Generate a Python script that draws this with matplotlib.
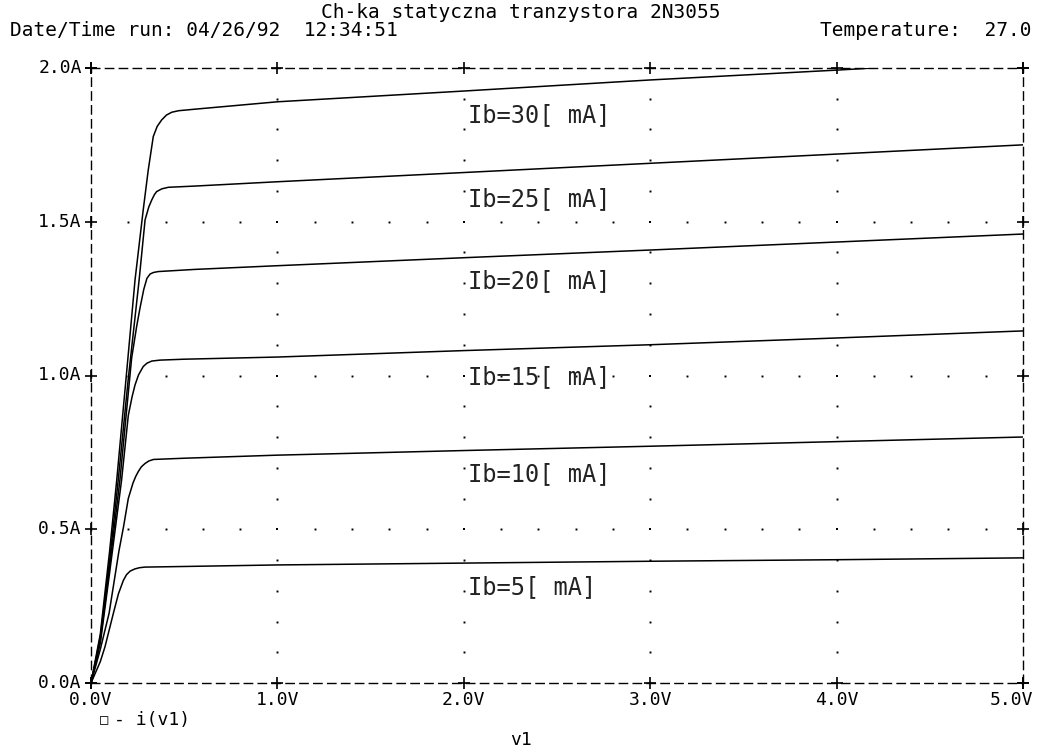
import matplotlib
matplotlib.use("Agg")
import matplotlib.pyplot as plt

# Charakterystyki wyjsciowe 2N3055: Ic = f(Vce) dla kilku Ib
v_ib5 = [0.0, 0.05, 0.075, 0.12, 0.147, 0.173, 0.19, 0.21, 0.235, 0.26, 0.29, 0.5, 1.0, 2.0, 3.0, 4.0, 5.0]
i_ib5 = [0.0, 0.07, 0.118, 0.227, 0.29, 0.333, 0.352, 0.364, 0.371, 0.375, 0.377, 0.379, 0.384, 0.39, 0.396, 0.401, 0.407]

v_ib10 = [0.0, 0.05, 0.097, 0.15, 0.175, 0.2, 0.225, 0.24, 0.254, 0.27, 0.29, 0.31, 0.335, 0.5, 1.0, 2.0, 3.0, 4.0, 5.0]
i_ib10 = [0.0, 0.11, 0.227, 0.43, 0.51, 0.6, 0.65, 0.672, 0.688, 0.703, 0.714, 0.722, 0.727, 0.731, 0.741, 0.756, 0.77, 0.785, 0.80]

v_ib15 = [0.0, 0.05, 0.1, 0.164, 0.2, 0.22, 0.236, 0.255, 0.28, 0.3, 0.326, 0.37, 0.5, 1.0, 2.0, 3.0, 4.0, 5.0]
i_ib15 = [0.0, 0.13, 0.36, 0.66, 0.87, 0.93, 0.969, 1.002, 1.029, 1.04, 1.047, 1.05, 1.053, 1.06, 1.081, 1.10, 1.122, 1.145]

v_ib20 = [0.0, 0.05, 0.1, 0.155, 0.218, 0.245, 0.263, 0.283, 0.30, 0.317, 0.335, 0.361, 0.558, 1.0, 2.0, 3.0, 4.0, 5.0]
i_ib20 = [0.0, 0.14, 0.38, 0.66, 1.057, 1.16, 1.22, 1.28, 1.316, 1.33, 1.335, 1.338, 1.345, 1.357, 1.383, 1.408, 1.434, 1.46]

v_ib25 = [0.0, 0.05, 0.1, 0.146, 0.2, 0.258, 0.29, 0.31, 0.326, 0.34, 0.352, 0.38, 0.415, 0.558, 1.0, 2.0, 3.0, 4.0, 5.0]
i_ib25 = [0.0, 0.15, 0.40, 0.66, 0.99, 1.31, 1.506, 1.548, 1.571, 1.588, 1.598, 1.607, 1.612, 1.616, 1.63, 1.66, 1.69, 1.72, 1.75]

v_ib30 = [0.0, 0.05, 0.1, 0.138, 0.2, 0.236, 0.28, 0.307, 0.334, 0.355, 0.379, 0.405, 0.433, 0.47, 0.558, 1.0, 2.0, 3.0, 4.0, 4.2]
i_ib30 = [0.0, 0.16, 0.43, 0.66, 1.07, 1.31, 1.538, 1.668, 1.777, 1.81, 1.831, 1.847, 1.856, 1.861, 1.866, 1.89, 1.925, 1.961, 1.993, 2.0]

curves = [(v_ib5, i_ib5), (v_ib10, i_ib10), (v_ib15, i_ib15),
          (v_ib20, i_ib20), (v_ib25, i_ib25), (v_ib30, i_ib30)]

labels = ["Ib=30[ mA]", "Ib=25[ mA]", "Ib=20[ mA]", "Ib=15[ mA]", "Ib=10[ mA]", "Ib=5[ mA]"]
label_y = [1.847, 1.574, 1.307, 0.995, 0.680, 0.312]

x_ticks = [0.0, 1.0, 2.0, 3.0, 4.0, 5.0]
x_tick_labels = ["0.0V", "1.0V", "2.0V", "3.0V", "4.0V", "5.0V"]
y_ticks = [0.0, 0.5, 1.0, 1.5, 2.0]
y_tick_labels = ["0.0A", "0.5A", "1.0A", "1.5A", "2.0A"]

mono = "DejaVu Sans Mono"

fig = plt.figure(figsize=(10.39, 7.51), dpi=100)
ax = fig.add_axes([0.0876, 0.0905, 0.897, 0.819])
ax.set_xlim(0, 5)
ax.set_ylim(0, 2)

# ramka przerywana
for s in ax.spines.values():
    s.set_linestyle((0, (6, 4)))
    s.set_linewidth(1.0)
    s.set_color("black")
ax.set_xticks([])
ax.set_yticks([])

# siatka z kropek
for xv in x_ticks[1:-1]:
    ys = [k / 10 for k in range(1, 20) if k % 5 != 0]
    ax.plot([xv] * len(ys), ys, ls="none", marker="s", ms=1.4, color="black", mew=0)
    ax.plot([xv] * 3, [0.5, 1.0, 1.5], ls="none", marker="s", ms=1.8, color="black", mew=0)
for yv in y_ticks[1:-1]:
    xs = [k / 5 for k in range(1, 25) if k % 5 != 0]
    ax.plot(xs, [yv] * len(xs), ls="none", marker="s", ms=1.4, color="black", mew=0)

# znaczniki "+" na ramce
for xv in x_ticks:
    ax.plot([xv, xv], [0, 2], ls="none", marker="+", ms=9, mew=1.2, color="black", clip_on=False)
for yv in y_ticks:
    ax.plot([0, 5], [yv, yv], ls="none", marker="+", ms=9, mew=1.2, color="black", clip_on=False)

for v, i in curves:
    ax.plot(v, i, color="black", lw=1.1)

for txt, yv in zip(labels, label_y):
    ax.text(2.02, yv, txt, family=mono, fontsize=17, va="center", ha="left", color="#222222")

for xv, lab in zip(x_ticks, x_tick_labels):
    if xv == x_ticks[-1]:
        ax.text(xv + 0.055, -0.025, lab, family=mono, fontsize=13, ha="right", va="top", clip_on=False)
    else:
        ax.text(xv, -0.025, lab, family=mono, fontsize=13, ha="center", va="top", clip_on=False)
for yv, lab in zip(y_ticks, y_tick_labels):
    ax.text(-0.05, yv, lab, family=mono, fontsize=13, ha="right", va="center", clip_on=False)

fig.text(521 / 1039, 1 - 13 / 751, "Ch-ka statyczna tranzystora 2N3055", family=mono,
         fontsize=14, ha="center", va="center")
fig.text(10 / 1039, 1 - 30 / 751, "Date/Time run: 04/26/92  12:34:51", family=mono,
         fontsize=14, ha="left", va="center")
fig.text(1032 / 1039, 1 - 30 / 751, "Temperature:  27.0", family=mono,
         fontsize=14, ha="right", va="center")

fig.text(104 / 1039, 1 - 720 / 751, "\u25a1", family=mono, fontsize=10, ha="center", va="center")
fig.text(114 / 1039, 1 - 720 / 751, "- i(v1)", family=mono, fontsize=13, ha="left", va="center")
fig.text(521 / 1039, 1 - 740 / 751, "v1", family=mono, fontsize=13, ha="center", va="center")

fig.savefig("out.png", dpi=100)
